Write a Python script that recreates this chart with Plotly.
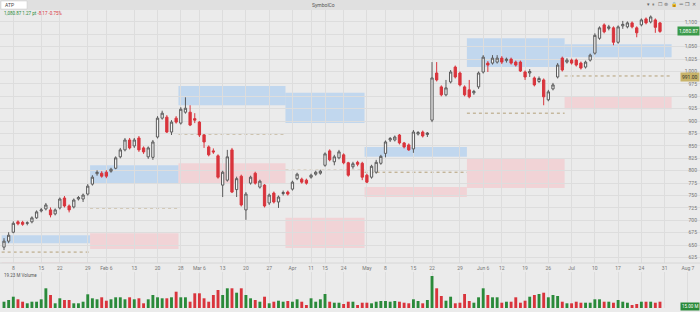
import plotly.graph_objects as go

# ---------------- data ----------------
open_ = [646,658,676,697,696,694,697,705,719,723,721,713,725,745,729,727,743,743,753,773,
         794,795,797,799,805,828,842,862,850,866,846,828,827,868,906,908,878,906,896,918,
         918,905,898,872,848,840,830,771,781,842,762,789,721,775,795,767,771,735,755,737,
         754,757,763,784,783,781,787,793,795,811,840,818,826,832,816,808,817,815,791,787,
         797,815,835,862,862,872,856,852,844,874,878,873,902,997,969,953,979,1009,997,969,
         963,957,969,999,1017,1017,1019,1027,1022,1025,1019,1019,999,997,987,980,983,943,965,989,
         1027,1019,1023,1023,1017,1009,1023,1037,1067,1094,1087,1088,1059,1092,1090,1098,1088,1094,1106,1100,
         1104,1098]
close = [658,670,694,693,692,695,705,717,721,731,711,721,743,729,721,741,746,751,769,787,
         797,789,789,803,826,842,862,846,862,842,838,846,858,906,916,878,898,898,924,926,
         892,902,872,858,832,838,787,797,828,757,784,731,753,787,775,779,729,751,737,747,
         756,753,777,793,777,775,791,797,799,834,822,828,838,816,791,814,813,787,777,809,
         817,829,858,865,868,856,848,842,878,877,870,876,987,983,953,967,999,989,973,953,
         949,960,997,1029,1013,1027,1027,1019,1025,1017,1013,1001,989,1000,973,986,949,959,973,1013,
         1003,1023,1017,1013,1007,1019,1033,1073,1088,1080,1090,1059,1090,1095,1098,1090,1078,1104,1098,1110,
         1089.04,1080.87]
high = [664,676,698,700,699,698,708,720,725,735,726,724,746,749,732,744,749,754,773,791,
        801,799,801,806,829,846,866,866,866,870,849,849,862,910,921,912,902,910,928,948,
        932,916,900,874,851,845,833,800,842,846,788,792,757,790,798,782,773,754,758,750,
        760,760,780,796,786,784,794,800,802,837,843,832,842,835,818,818,820,818,794,812,
        822,832,861,868,871,874,858,855,882,880,881,878,1019,1019,972,983,1003,1012,1000,972,
        983,963,1000,1033,1021,1033,1033,1031,1028,1028,1022,1022,1002,1005,990,990,986,963,977,1017,
        1030,1027,1026,1026,1020,1022,1036,1077,1091,1097,1094,1091,1093,1102,1101,1101,1091,1107,1109,1113,
        1107,1100]
low = [640,654,674,690,689,690,694,703,716,720,706,710,722,726,716,724,740,737,750,770,
       790,786,785,796,803,825,839,843,846,838,834,824,822,865,903,876,872,895,893,915,
       890,896,868,846,829,834,784,747,778,755,747,728,701,772,772,764,726,731,734,725,
       750,750,760,781,774,772,784,790,792,808,819,811,823,813,788,804,809,781,775,784,
       794,812,827,858,859,853,845,840,836,871,867,868,898,980,950,950,976,986,970,950,
       946,953,965,996,999,1014,1016,1015,1018,1014,1010,999,983,989,970,977,932,940,962,986,
       1000,1016,1014,1010,1004,1006,1020,1034,1064,1077,1083,1053,1056,1086,1087,1087,1069,1091,1095,1097,
       1078,1078]
volume = [6.3,8,11.3,8.7,6.3,4.7,6.3,6.3,8.7,19.7,13,4.7,9.7,8,8,4.7,4.7,6.3,13.7,9.7,
          8.7,10.7,7.3,8.7,10.7,10.7,8.7,10.7,8.7,9.7,4.7,8.7,13,10.7,9.7,9.7,10.7,16.3,10.7,10.7,
          6.3,14.7,14.7,9.7,6.3,13,18,13,19.7,19.7,15.3,19.7,13,9.7,8,6.3,11.3,4.7,6.3,7.3,
          6.3,7,6.3,8.7,6.3,3,9.7,6.3,8.7,14,6.3,5.3,5.3,4,6.3,6.3,3,5.3,5.3,4.7,
          6.3,7,7,6.3,7,6.3,5.3,4.7,8.7,7,4.7,8,32,19.7,12,7.3,11.3,4.7,5.3,14,
          7,5.3,10.7,19.7,13,10.7,10.7,5.3,6.3,6.3,10.7,5.3,7.3,11.3,13,14,15.3,10.7,13,12,
          6.3,4.7,4.7,6.3,5.3,5.3,5.3,8.7,8.7,6.3,6.3,5.3,8,6.3,5.3,3,4,6.3,6.3,6.3,
          5.3,6.3]

tick_idx = [2,8,12,18,22,28,33,38,42,47,52,57,62,66,69,73,78,82,88,92,98,103,107,112,117,122,127,132,137,142,147]
tick_text = ["8","15","22","29","Feb 6","13","20","28","Mar 6","13","20","27","Apr","11","15","24",
             "May","8","15","22","29","Jun 6","12","19","26","Jul","10","17","24","31","Aug 7"]

zone_start = [-0.5, 18.5, 37.5, 60.5, 77.5, 99.5, 120.5]
zone_end = [18.5, 37.5, 60.5, 77.5, 99.5, 120.5, 143.5]
blue_top = [670, 811, 971, 957, 848, 1067, 1055]
blue_bot = [654, 775, 932, 896, 828, 1009, 1029]
mid_line = [636, 725, 874, 801, 797, 916, 991]
pink_top = [615, 674, 815, 705, 767, 824, 950]
pink_bot = [600, 642, 775, 644, 747, 765, 924]

price_ticks = list(range(625, 1101, 25))
hidden_tick = 1075  # covered by the last-price tag in the reference

# ---------------- figure ----------------
N = len(close)
xs = list(range(N))
UP_LINE = "#5b5b5b"
UP_FILL = "#f5f5f5"
DN = "#d9343c"
GREEN = "#2a8a3a"

fig = go.Figure()

fig.add_trace(go.Candlestick(
    x=xs, open=open_, high=high, low=low, close=close,
    increasing=dict(line=dict(color=UP_LINE, width=1), fillcolor=UP_FILL),
    decreasing=dict(line=dict(color=DN, width=1), fillcolor=DN),
    whiskerwidth=0, showlegend=False, hoverinfo="skip", xaxis="x", yaxis="y"))

vcol = [GREEN if c >= o else DN for o, c in zip(open_, close)]
fig.add_trace(go.Bar(x=xs, y=volume, marker=dict(color=vcol, line=dict(width=0)),
                     width=0.62, showlegend=False, hoverinfo="skip", xaxis="x2", yaxis="y2"))

shapes = []
for s, e, bt, bb, m, pt, pb in zip(zone_start, zone_end, blue_top, blue_bot, mid_line, pink_top, pink_bot):
    shapes.append(dict(type="rect", xref="x", yref="y", x0=s, x1=e, y0=bb, y1=bt,
                       fillcolor="rgba(170,205,240,0.65)", line=dict(width=0), layer="below"))
    shapes.append(dict(type="rect", xref="x", yref="y", x0=s, x1=e, y0=pb, y1=pt,
                       fillcolor="rgba(245,195,200,0.6)", line=dict(width=0), layer="below"))
    shapes.append(dict(type="line", xref="x", yref="y", x0=s, x1=e, y0=m, y1=m,
                       line=dict(color="#b39f78", width=1, dash="dot"), layer="below"))

# header band
shapes.append(dict(type="rect", xref="paper", yref="paper", x0=0, x1=1, y0=1 - 10/312, y1=1,
                   fillcolor="#e0e0e0", line=dict(width=0), layer="above"))
shapes.append(dict(type="rect", xref="paper", yref="paper", x0=1/700, x1=27/700, y0=1 - 9/312, y1=1 - 1/312,
                   fillcolor="#ffffff", line=dict(color="#c8c8c8", width=0.5), layer="above"))
shapes.append(dict(type="line", xref="paper", yref="paper", x0=0, x1=1, y0=1 - 263/312, y1=1 - 263/312,
                   line=dict(color="#d6d6d6", width=1)))

fig.update_layout(shapes=shapes)

last = close[-1]
chg = close[-1] - close[-2]
pct = chg / close[-2] * 100

ann = [
    dict(text="ATP", x=3/700, y=1 - 5/312, xref="paper", yref="paper", showarrow=False,
         xanchor="left", yanchor="middle", font=dict(size=5, color="#444")),
    dict(text="SymbolCo", x=323/700, y=1 - 5/312, xref="paper", yref="paper", showarrow=False,
         xanchor="center", yanchor="middle", font=dict(size=5, color="#555")),
    dict(text="▾  ⏸  ☐  ⊜  🔒  ═  ❐  ✕", x=698/700, y=1 - 5/312, xref="paper", yref="paper",
         showarrow=False, xanchor="right", yanchor="middle", font=dict(size=5, color="#666")),
    dict(text=f"<span style='color:#2a8a3a'>{last:,.2f} 1.27 pt</span> "
              f"<span style='color:#d9343c'>{chg:+.2f} {pct:+.2f}%</span>",
         x=2/700, y=1 - 14/312, xref="paper", yref="paper", showarrow=False,
         xanchor="left", yanchor="middle", font=dict(size=4.5)),
    dict(text=f"{last:,.2f}", x=1, y=last, xref="paper", yref="y", showarrow=False,
         xanchor="right", yanchor="middle", bgcolor="#3a9a4a", font=dict(size=5, color="white"),
         borderpad=1),
    dict(text=f"{mid_line[-1]:,.2f}", x=1, y=mid_line[-1] - 2, xref="paper", yref="y", showarrow=False,
         xanchor="right", yanchor="middle", bgcolor="#c9b46a", font=dict(size=5, color="#333"),
         borderpad=1),
    dict(text="19.23 M Volume", x=2/700, y=1 - 275/312, xref="paper", yref="paper", showarrow=False,
         xanchor="left", yanchor="middle", font=dict(size=4.5, color="#555")),
    dict(text="15.00 M", x=1, y=1 - 306/312, xref="paper", yref="paper", showarrow=False,
         xanchor="right", yanchor="middle", bgcolor="#2a8a3a", font=dict(size=4.5, color="white"),
         borderpad=1),
]
fig.update_layout(annotations=ann)

XR = [-0.86, 149.6]
fig.update_layout(
    width=700, height=312,
    margin=dict(l=0, r=0, t=0, b=0),
    paper_bgcolor="#ebebeb", plot_bgcolor="#ebebeb",
    font=dict(family="Roboto, Arial, sans-serif", size=5, color="#666"),
    xaxis=dict(domain=[0, 1], range=XR, anchor="y", tickmode="array", tickvals=tick_idx,
               ticktext=tick_text, showticklabels=False, showgrid=True, gridcolor="#dddddd",
               gridwidth=1, zeroline=False, rangeslider=dict(visible=False), fixedrange=True),
    yaxis=dict(domain=[1 - 263/312, 1 - 10/312], range=[614, 1124], side="right",
               tickmode="array", tickvals=price_ticks,
               ticktext=["" if v == hidden_tick else f"{v:,}" for v in price_ticks],
               ticklabelposition="inside", showgrid=True, gridcolor="#dddddd", zeroline=False,
               tickfont=dict(size=5, color="#777"), ticks=""),
    xaxis2=dict(domain=[0, 1], range=XR, anchor="y2", matches="x", tickmode="array",
                tickvals=tick_idx, ticktext=tick_text, side="top", showgrid=True,
                gridcolor="#dddddd", zeroline=False, tickfont=dict(size=5, color="#777"),
                ticks="", ticklabelstandoff=0),
    yaxis2=dict(domain=[1 - 308/312, 1 - 272/312], range=[0, 36], side="right",
                showticklabels=False, showgrid=False, zeroline=False),
)

fig.write_html("out.html")
